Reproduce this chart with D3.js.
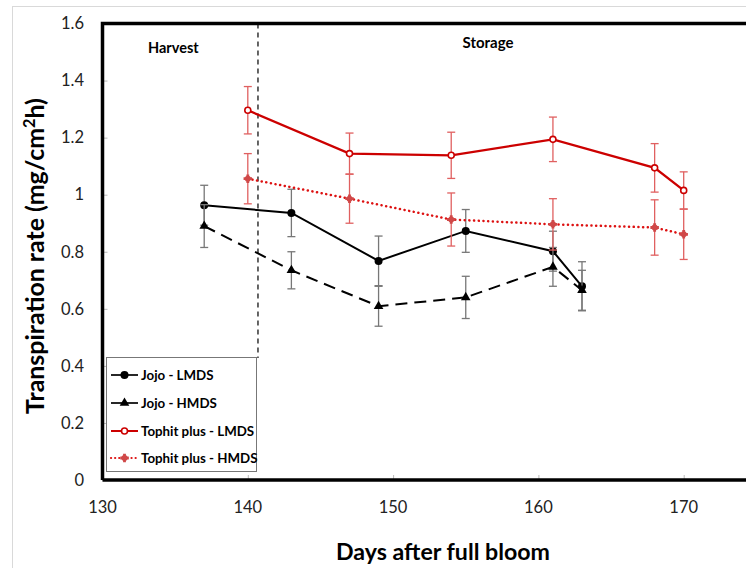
<!DOCTYPE html>
<html>
<head>
<meta charset="utf-8">
<script src="https://cdn.jsdelivr.net/npm/d3@7"></script>
<style>
  body { margin: 0; background: #fff; }
  svg { display: block; font-family: Lato, "Open Sans", sans-serif; }
</style>
</head>
<body>
<svg width="746" height="568"></svg>
<script>
// values
const jojoDays = [137, 143, 149, 155, 161, 163];
const jojoLMDS = [0.963, 0.936, 0.768, 0.873, 0.802, 0.679];
const jojoLMDSErr = [0.07, 0.083, 0.087, 0.075, 0.07, 0.086];
const jojoHMDS = [0.89, 0.735, 0.609, 0.64, 0.747, 0.665];
const jojoHMDSErr = [0.075, 0.065, 0.07, 0.074, 0.068, 0.07];

const tophitDays = [140, 147, 154, 161, 168, 170];
const tophitLMDS = [1.296, 1.144, 1.138, 1.194, 1.094, 1.015];
const tophitLMDSErr = [0.083, 0.072, 0.081, 0.078, 0.085, 0.065];
const tophitHMDS = [1.056, 0.986, 0.913, 0.896, 0.885, 0.861];
const tophitHMDSErr = [0.088, 0.086, 0.093, 0.09, 0.097, 0.088];

const xTicks = [130, 140, 150, 160, 170];
const yTicks = [0, 0.2, 0.4, 0.6, 0.8, 1, 1.2, 1.4, 1.6];
const harvestDay = 140.7;
const legendLabels = ["Jojo - LMDS", "Jojo - HMDS", "Tophit plus - LMDS", "Tophit plus - HMDS"];

const svg = d3.select("svg");

const x = d3.scaleLinear().domain([130, 180]).range([102.5, 829]);
const y = d3.scaleLinear().domain([0, 1.6]).range([480, 23.5]);

// chart area border (light grey)
svg.append("rect")
  .attr("x", 12.5).attr("y", 6.5)
  .attr("width", 800).attr("height", 600)
  .attr("fill", "none").attr("stroke", "#d9d9d9");

// inside ticks
const yAxis = d3.axisRight(y).tickValues(yTicks).tickSize(5).tickFormat("");
svg.append("g").attr("transform", `translate(${x(130)},0)`).call(yAxis)
  .call(g => g.select(".domain").remove())
  .selectAll("line").attr("stroke", "#bbb");

const xAxis = d3.axisTop(x).tickValues(xTicks).tickSize(5).tickFormat("");
svg.append("g").attr("transform", `translate(0,${y(0)})`).call(xAxis)
  .call(g => g.select(".domain").remove())
  .selectAll("line").attr("stroke", "#bbb");

// tick labels
svg.append("g").selectAll("text")
  .data(yTicks).enter().append("text")
  .attr("x", 84).attr("y", d => y(d))
  .attr("dy", "0.35em").attr("text-anchor", "end")
  .attr("font-size", 16.5).attr("fill", "#222")
  .text(d => d3.format("~g")(d));

svg.append("g").selectAll("text")
  .data(xTicks).enter().append("text")
  .attr("x", d => x(d)).attr("y", 507)
  .attr("dy", "0.35em").attr("text-anchor", "middle")
  .attr("font-size", 16.5).attr("fill", "#222")
  .text(d => d);

// fit a text node to a target width by scaling its font size
function fit(sel, width) {
  const fs = +sel.attr("font-size");
  const w = sel.node().getComputedTextLength();
  sel.attr("font-size", fs * width / w);
}

const xTitle = svg.append("text")
  .attr("x", 443).attr("y", 552).attr("dy", "0.35em")
  .attr("text-anchor", "middle").attr("font-weight", "bold")
  .attr("font-size", 22).attr("fill", "#000")
  .text("Days after full bloom");
fit(xTitle, 214);

const yTitle = svg.append("text")
  .attr("transform", "translate(35,256) rotate(-90)")
  .attr("dy", "0.35em")
  .attr("text-anchor", "middle").attr("font-weight", "bold")
  .attr("font-size", 22).attr("fill", "#000");
yTitle.append("tspan").text("Transpiration rate (mg/cm");
yTitle.append("tspan").attr("baseline-shift", "super").attr("font-size", "65%").text("2");
yTitle.append("tspan").text("h)");
fit(yTitle, 316);

// period labels
svg.append("text").attr("x", 148).attr("y", 48).attr("dy", "0.35em")
  .attr("font-weight", "bold").attr("font-size", 14.5).text("Harvest");
svg.append("text").attr("x", 488).attr("y", 43).attr("dy", "0.35em")
  .attr("text-anchor", "middle")
  .attr("font-weight", "bold").attr("font-size", 15).text("Storage");

// harvest / storage divider
svg.append("line")
  .attr("x1", x(harvestDay)).attr("x2", x(harvestDay))
  .attr("y1", y(1.6)).attr("y2", 358)
  .attr("stroke", "#333").attr("stroke-width", 1.5)
  .attr("stroke-dasharray", "5,4");

const series = [
  { days: jojoDays, vals: jojoLMDS, err: jojoLMDSErr, color: "#000", errColor: "#777",
    width: 2, dash: null, marker: "circle" },
  { days: jojoDays, vals: jojoHMDS, err: jojoHMDSErr, color: "#000", errColor: "#777",
    width: 2, dash: "12,7", marker: "triangle" },
  { days: tophitDays, vals: tophitLMDS, err: tophitLMDSErr, color: "#cc0000", errColor: "#e06060",
    width: 2.3, dash: null, marker: "open" },
  { days: tophitDays, vals: tophitHMDS, err: tophitHMDSErr, color: "#dd1111", errColor: "#e06060",
    width: 2.5, dash: "0.1,4.6", marker: "star" }
];

function drawMarker(g, type, cx, cy) {
  if (type === "circle") {
    g.append("circle").attr("cx", cx).attr("cy", cy).attr("r", 4).attr("fill", "#000");
  } else if (type === "triangle") {
    g.append("path").attr("transform", `translate(${cx},${cy})`)
      .attr("d", d3.symbol(d3.symbolTriangle, 40)()).attr("fill", "#000");
  } else if (type === "open") {
    g.append("circle").attr("cx", cx).attr("cy", cy).attr("r", 3)
      .attr("fill", "#fff").attr("stroke", "#cc0000").attr("stroke-width", 1.6);
  } else {
    g.append("path").attr("transform", `translate(${cx},${cy})`)
      .attr("d", d3.symbol(d3.symbolCross, 40)()).attr("fill", "#d04848");
    g.append("circle").attr("cx", cx).attr("cy", cy).attr("r", 3).attr("fill", "#d04848");
  }
}

series.forEach(s => {
  const pts = s.days.map((d, i) => ({ d, v: s.vals[i], e: s.err[i] }));
  const g = svg.append("g");

  // error bars
  const eb = g.selectAll(".eb").data(pts).enter().append("g")
    .attr("stroke", s.errColor).attr("stroke-width", 1.3);
  eb.append("line")
    .attr("x1", p => x(p.d)).attr("x2", p => x(p.d))
    .attr("y1", p => y(p.v + p.e)).attr("y2", p => y(p.v - p.e));
  eb.append("line")
    .attr("x1", p => x(p.d) - 4).attr("x2", p => x(p.d) + 4)
    .attr("y1", p => y(p.v + p.e)).attr("y2", p => y(p.v + p.e));
  eb.append("line")
    .attr("x1", p => x(p.d) - 4).attr("x2", p => x(p.d) + 4)
    .attr("y1", p => y(p.v - p.e)).attr("y2", p => y(p.v - p.e));

  const line = d3.line().x(p => x(p.d)).y(p => y(p.v));
  g.append("path").datum(pts).attr("d", line)
    .attr("fill", "none").attr("stroke", s.color)
    .attr("stroke-width", s.width)
    .attr("stroke-linecap", s.marker === "star" ? "round" : "butt")
    .attr("stroke-dasharray", s.dash);

  pts.forEach(p => drawMarker(g, s.marker, x(p.d), y(p.v)));
});

// plot frame
svg.append("path")
  .attr("d", `M${x(130)},${y(0)}V${y(1.6)}H800`)
  .attr("fill", "none").attr("stroke", "#000").attr("stroke-width", 3.5);
svg.append("line")
  .attr("x1", x(130)).attr("x2", 800).attr("y1", y(0)).attr("y2", y(0))
  .attr("stroke", "#000").attr("stroke-width", 3.5);

// legend
const lg = svg.append("g");
lg.append("rect").attr("x", 106.5).attr("y", 357.5)
  .attr("width", 150).attr("height", 114)
  .attr("fill", "#fff").attr("stroke", "#777").attr("stroke-width", 1);
const legendY = [375, 403, 431, 458];
legendLabels.forEach((lab, i) => {
  const s = series[i];
  const cy = legendY[i];
  lg.append("line").attr("x1", 111).attr("x2", 138).attr("y1", cy).attr("y2", cy)
    .attr("stroke", s.color).attr("stroke-width", s.width - 0.3)
    .attr("stroke-linecap", s.marker === "star" ? "round" : "butt")
    .attr("stroke-dasharray", s.marker === "star" ? "0.1,4" : null);
  drawMarker(lg, s.marker, 124.5, cy);
  lg.append("text").attr("x", 141).attr("y", cy).attr("dy", "0.35em")
    .attr("font-weight", "bold").attr("font-size", 13.3).attr("fill", "#000")
    .text(lab);
});
</script>
</body>
</html>
